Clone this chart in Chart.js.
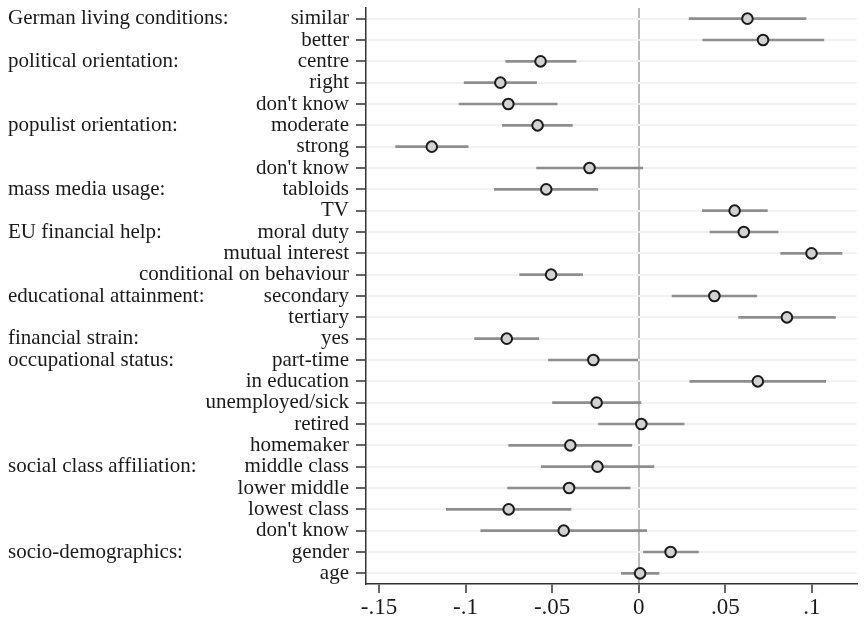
<!DOCTYPE html>
<html>
<head>
<meta charset="utf-8">
<script src="https://cdn.jsdelivr.net/npm/chart.js@4"></script>
<style>
  html, body { margin: 0; padding: 0; background: #fff; }
  #wrap { width: 864px; height: 620px; }
</style>
</head>
<body>
<div id="wrap"><canvas id="c" width="864" height="620"></canvas></div>
<script>
// Row labels (one per coefficient, top to bottom)
const rowLabels = [
  'similar', 'better',
  'centre', 'right', "don't know",
  'moderate', 'strong', "don't know",
  'tabloids', 'TV',
  'moral duty', 'mutual interest', 'conditional on behaviour',
  'secondary', 'tertiary',
  'yes',
  'part-time', 'in education', 'unemployed/sick', 'retired', 'homemaker',
  'middle class', 'lower middle', 'lowest class', "don't know",
  'gender', 'age'
];

// Group headings and the row each one sits on
const groupNames = [
  'German living conditions:', 'political orientation:', 'populist orientation:',
  'mass media usage:', 'EU financial help:', 'educational attainment:',
  'financial strain:', 'occupational status:', 'social class affiliation:',
  'socio-demographics:'
];
const groupRows = [0, 2, 5, 8, 10, 13, 15, 16, 21, 25];

// Point estimates and 95% confidence bounds
const estimates = [
  0.0628, 0.0718,
  -0.0567, -0.0799, -0.0753,
  -0.0584, -0.1195, -0.0284,
  -0.0534, 0.0554,
  0.0607, 0.0998, -0.0506,
  0.0437, 0.0856,
  -0.0762,
  -0.0262, 0.0688, -0.0243, 0.0015, -0.0395,
  -0.0238, -0.0402, -0.0751, -0.0433,
  0.0184, 0.0008
];
const ciLow = [
  0.0291, 0.0370,
  -0.0768, -0.1008, -0.1038,
  -0.0787, -0.1404, -0.0590,
  -0.0833, 0.0368,
  0.0412, 0.0820, -0.0688,
  0.0193, 0.0577,
  -0.0948,
  -0.0521, 0.0295, -0.0498, -0.0232, -0.0751,
  -0.0563, -0.0757, -0.1111, -0.0912,
  0.0027, -0.0100
];
const ciHigh = [
  0.0966, 0.1069,
  -0.0362, -0.0590, -0.0471,
  -0.0383, -0.0985, 0.0023,
  -0.0236, 0.0743,
  0.0805, 0.1174, -0.0324,
  0.0682, 0.1136,
  -0.0577,
  0.0000, 0.1080, 0.0013, 0.0262, -0.0040,
  0.0088, -0.0050, -0.0391, 0.0046,
  0.0345, 0.0117
];

// Horizontal axis ticks
const xTickValues = [-0.15, -0.10, -0.05, 0, 0.05, 0.10];
const xTickLabels = ['-.15', '-.1', '-.05', '0', '.05', '.1'];

const serif = '"Liberation Serif", "Times New Roman", serif';

// Group headings in the left margin, aligned with their first row
const groupHeadings = {
  id: 'groupHeadings',
  afterDraw(chart) {
    const ctx = chart.ctx;
    const y = chart.scales.y;
    ctx.save();
    ctx.font = '21px ' + serif;
    ctx.fillStyle = '#1a1a1a';
    ctx.textAlign = 'left';
    ctx.textBaseline = 'middle';
    groupNames.forEach((name, i) => {
      ctx.fillText(name, 8, y.getPixelForValue(groupRows[i]));
    });
    ctx.restore();
  }
};

// keep the plot box fixed: no extra room reserved for overhanging labels
function noOverhang(scale) {
  scale.paddingTop = 0;
  scale.paddingBottom = 0;
  scale.paddingLeft = 0;
  scale.paddingRight = 0;
}

new Chart(document.getElementById('c'), {
  type: 'bar',
  data: {
    labels: rowLabels,
    datasets: [
      {
        type: 'scatter',
        label: 'estimate',
        data: estimates.map((v, i) => ({ x: v, y: i })),
        pointRadius: 5.3,
        pointBorderWidth: 2,
        pointBackgroundColor: '#d2d2d2',
        pointBorderColor: '#1c1c1c',
        order: 0
      },
      {
        type: 'bar',
        label: 'ci',
        data: ciLow.map((lo, i) => [lo, ciHigh[i]]),
        backgroundColor: '#8e8e8e',
        borderWidth: 0,
        borderSkipped: false,
        barThickness: 2,
        order: 1
      }
    ]
  },
  options: {
    indexAxis: 'y',
    responsive: false,
    animation: false,
    layout: { padding: { left: 0, right: 4, top: 8, bottom: 0 } },
    plugins: { legend: { display: false }, tooltip: { enabled: false } },
    scales: {
      x: {
        type: 'linear',
        position: 'bottom',
        min: -0.1575,
        max: 0.1259,
        afterBuildTicks(scale) {
          scale.ticks = xTickValues.map(v => ({ value: v }));
        },
        afterFit(scale) { scale.height = 36; noOverhang(scale); },
        ticks: {
          autoSkip: false,
          maxRotation: 0,
          padding: 1,
          color: '#1a1a1a',
          font: { family: serif, size: 23 },
          callback: (v, i) => xTickLabels[i]
        },
        grid: {
          drawOnChartArea: true,
          color: ctx => (ctx.tick && ctx.tick.value === 0) ? '#b9b9b9' : 'rgba(0,0,0,0)',
          lineWidth: 2,
          tickColor: '#333',
          tickWidth: 1.5,
          tickLength: 9
        },
        border: { display: true, color: '#333', width: 1.5 }
      },
      y: {
        type: 'category',
        position: 'left',
        offset: true,
        afterFit(scale) { scale.width = 366; noOverhang(scale); },
        ticks: {
          autoSkip: false,
          padding: 7,
          color: '#1a1a1a',
          font: { family: serif, size: 21 }
        },
        grid: {
          offset: false,
          color: '#f1f1f1',
          lineWidth: 2,
          tickColor: '#333',
          tickWidth: 1.5,
          tickLength: 10
        },
        border: { display: true, color: '#333', width: 1.5 }
      }
    }
  },
  plugins: [groupHeadings]
});
</script>
</body>
</html>
